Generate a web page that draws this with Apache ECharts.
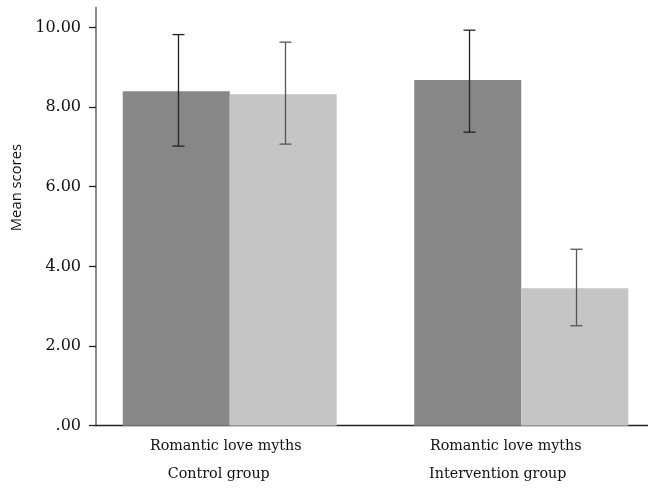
<!DOCTYPE html>
<html>
<head>
<meta charset="utf-8">
<script src="https://cdn.jsdelivr.net/npm/echarts@6/dist/echarts.min.js"></script>
<style>html,body{margin:0;padding:0;background:#fff}#c{width:648px;height:489px}</style>
</head>
<body>
<div id="c"></div>
<script>
const categories = ['Control group', 'Intervention group'];
const measureLabel = 'Romantic love myths';
const darkValues = [8.40, 8.68];
const lightValues = [8.32, 3.45];
const darkErrLow = [7.02, 7.37];
const darkErrHigh = [9.82, 9.93];
const lightErrLow = [7.07, 2.51];
const lightErrHigh = [9.63, 4.43];
const yTicks = [0, 2, 4, 6, 8, 10];
const yMax = 10.5;
const yTitle = 'Mean scores';

const BAR_RATIO = 0.367;
const serif = 'DejaVu Serif';

function errSeries(low, high, side, color) {
  return {
    type: 'custom',
    xAxisIndex: 0, yAxisIndex: 0,
    z: 5,
    data: low.map((l, i) => [i, l, high[i]]),
    renderItem: function (params, api) {
      const c = api.value(0);
      const p1 = api.coord([c, api.value(1)]);
      const p2 = api.coord([c, api.value(2)]);
      const bw = api.size([1, 0])[0] * BAR_RATIO;
      const x = Math.round(p1[0] + side * bw / 2 + 1.5) + 0.5;
      const cap = 6;
      const st = { stroke: color, lineWidth: 1.3 };
      return {
        type: 'group',
        children: [
          { type: 'line', shape: { x1: x, y1: p1[1], x2: x, y2: p2[1] }, style: st },
          { type: 'line', shape: { x1: x - cap, y1: p1[1], x2: x + cap, y2: p1[1] }, style: st },
          { type: 'line', shape: { x1: x - cap, y1: p2[1], x2: x + cap, y2: p2[1] }, style: st }
        ]
      };
    }
  };
}

const labelPads = [[8, 22], [31, 47]];

const chart = echarts.init(document.getElementById('c'), null, { renderer: 'canvas' });
chart.setOption({
  animation: false,
  backgroundColor: '#ffffff',
  grid: [
    { left: 84, width: 583, top: 7.5, bottom: 63.3, containLabel: false, outerBoundsMode: 'none' },
    { left: 96, right: 0, top: 7.5, bottom: 63.3, containLabel: false, outerBoundsMode: 'none' }
  ],
  xAxis: [
    {
      type: 'category', gridIndex: 0, data: categories,
      axisLine: { show: false }, axisTick: { show: false },
      axisLabel: {
        margin: 7,
        formatter: function (v, i) {
          return '{a' + i + '|' + measureLabel + '}\n{b' + i + '|' + v + '}';
        },
        rich: {
          a0: { fontFamily: serif, fontSize: 14.3, color: '#111', lineHeight: 28, padding: [0, labelPads[0][0], 0, 0] },
          b0: { fontFamily: serif, fontSize: 14.3, color: '#111', lineHeight: 28, padding: [0, labelPads[0][1], 0, 0] },
          a1: { fontFamily: serif, fontSize: 14.3, color: '#111', lineHeight: 28, padding: [0, labelPads[1][0], 0, 0] },
          b1: { fontFamily: serif, fontSize: 14.3, color: '#111', lineHeight: 28, padding: [0, labelPads[1][1], 0, 0] }
        }
      }
    },
    {
      type: 'value', gridIndex: 1, min: 0, max: 1,
      axisLine: { show: true, lineStyle: { color: '#222', width: 1.3 } },
      axisTick: { show: false }, axisLabel: { show: false }, splitLine: { show: false }
    }
  ],
  yAxis: [
    { type: 'value', gridIndex: 0, min: 0, max: yMax, show: false, splitLine: { show: false } },
    {
      type: 'value', gridIndex: 1, min: 0, max: yMax, interval: 2,
      name: yTitle, nameLocation: 'middle', nameGap: 71, nameRotate: 90,
      nameTextStyle: { fontFamily: 'Open Sans', fontSize: 14.8, color: '#111', padding: [0, 0, 0, 58] },
      axisLine: { show: true, lineStyle: { color: '#666', width: 1.5 } },
      axisTick: { show: true, length: 7, customValues: yTicks, lineStyle: { color: '#222', width: 1.3 } },
      axisLabel: {
        margin: 15, fontFamily: serif, fontSize: 16, color: '#111',
        customValues: yTicks,
        formatter: function (v) { return v === 0 ? '.00' : (v % 2 === 0 ? v.toFixed(2) : ''); }
      },
      splitLine: { show: false }
    }
  ],
  series: [
    { name: 'Dark', type: 'bar', xAxisIndex: 0, yAxisIndex: 0, data: darkValues,
      barWidth: (BAR_RATIO * 100) + '%', barGap: '0%', itemStyle: { color: '#878787' } },
    { name: 'Light', type: 'bar', xAxisIndex: 0, yAxisIndex: 0, data: lightValues,
      barWidth: (BAR_RATIO * 100) + '%', barGap: '0%', itemStyle: { color: '#c5c5c5' } },
    errSeries(darkErrLow, darkErrHigh, -1, '#222'),
    errSeries(lightErrLow, lightErrHigh, 1, '#555')
  ]
});
</script>
</body>
</html>
